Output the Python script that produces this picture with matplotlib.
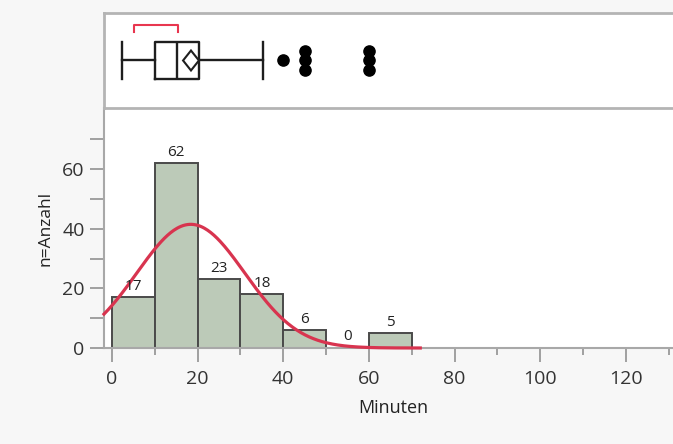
import matplotlib.pyplot as plt
import numpy as np
from matplotlib.ticker import MultipleLocator, FixedLocator

plt.rcParams['font.family'] = ['Open Sans', 'DejaVu Sans']

# Histogramm (Klassenbreite 10 Minuten)
bin_edges = [0, 10, 20, 30, 40, 50, 60, 70]
counts = [17, 62, 23, 18, 6, 0, 5]

# angepasste Normalverteilung
fit_mean = 18.4
fit_sd = 12.6

# Boxplot-Kennwerte
whisker_lo = 2.3
q1 = 10.0
median = 15.3
q3 = 20.4
whisker_hi = 35.3
mean_ci = (16.6, 20.3)
shortest_half = (5.2, 15.5)
outlier_x = [40, 45, 45, 45, 60, 60, 60]
outlier_stack = [0, -1, 0, 1, -1, 0, 1]

y_major = [0, 20, 40, 60]
y_minor = [10, 30, 50, 70]

bar_color = '#bccab8'
edge_color = '#4a4a4a'
curve_color = '#d8344f'
frame_color = '#b4b4b4'

fig = plt.figure(figsize=(6.73, 4.44), dpi=100, facecolor='#f7f7f7')
ax = fig.add_axes([0.1545, 0.2162, 0.86, 0.5406])
ax_box = fig.add_axes([0.1545, 0.7568, 0.86, 0.2139])
ax_box.set_zorder(3)

xmin, xmax = -1.87, 133.3

# --- Histogramm ---
ax.bar(bin_edges[:-1], counts, width=10, align='edge', color=bar_color,
       edgecolor=edge_color, linewidth=1.4, zorder=2)
for left, c in zip(bin_edges[:-1], counts):
    ax.text(left + 5, c + 1.2, str(c), ha='center', va='bottom',
            fontsize=11, color='#222222', zorder=4)

n_total = sum(counts)
xs = np.linspace(xmin, 72, 300)
ys = n_total * 10 * np.exp(-0.5 * ((xs - fit_mean) / fit_sd) ** 2) / (fit_sd * np.sqrt(2 * np.pi))
ax.plot(xs, ys, color=curve_color, lw=2.3, zorder=3, clip_on=False)

ax.set_xlim(xmin, xmax)
ax.set_ylim(0, 80.5)
ax.xaxis.set_major_locator(MultipleLocator(20))
ax.xaxis.set_minor_locator(MultipleLocator(10))
ax.yaxis.set_major_locator(FixedLocator(y_major))
ax.yaxis.set_minor_locator(FixedLocator(y_minor))
ax.tick_params(axis='y', which='both', length=10, width=1.3, color='#999999',
               labelsize=14, labelcolor='#333333', pad=4)
ax.tick_params(axis='x', which='major', length=10, width=1.3, color='#999999',
               labelsize=14, labelcolor='#333333', pad=6)
ax.tick_params(axis='x', which='minor', length=5, width=1.3, color='#999999')
for s in ['top', 'right']:
    ax.spines[s].set_visible(False)
for s in ['left', 'bottom']:
    ax.spines[s].set_color('#a8a8a8')
    ax.spines[s].set_linewidth(1.5)
ax.set_xlabel('Minuten', fontsize=13, color='#222222', labelpad=8)
ax.set_ylabel('n=Anzahl', fontsize=12.5, color='#222222', labelpad=6)

# --- Boxplot oben ---
stats = [dict(whislo=whisker_lo, q1=q1, med=median, q3=q3, whishi=whisker_hi)]
line_kw = dict(color='#1e1e1e', linewidth=1.7)
ax_box.bxp(stats, positions=[0.5], widths=0.4, capwidths=0.4,
           orientation='horizontal', showfliers=False,
           boxprops=line_kw, whiskerprops=line_kw, capprops=line_kw,
           medianprops=line_kw)
mean_val = sum(mean_ci) / 2
ax_box.fill([mean_ci[0], mean_val, mean_ci[1], mean_val],
            [0.5, 0.605, 0.5, 0.395], facecolor='white',
            edgecolor='#1e1e1e', linewidth=1.5, zorder=3)
ax_box.scatter(outlier_x, [0.5 + 0.1 * k for k in outlier_stack],
               s=65, color='black', zorder=3)
ax_box.plot([shortest_half[0], shortest_half[0], shortest_half[1], shortest_half[1]],
            [0.8, 0.87, 0.87, 0.8], color='#e8364f', lw=1.5)
ax_box.set_xlim(xmin, xmax)
ax_box.set_ylim(0, 1)
ax_box.set_xticks([])
ax_box.set_yticks([])
for s in ax_box.spines.values():
    s.set_color(frame_color)
    s.set_linewidth(2)

fig.savefig('out.png', dpi=100, facecolor=fig.get_facecolor())
